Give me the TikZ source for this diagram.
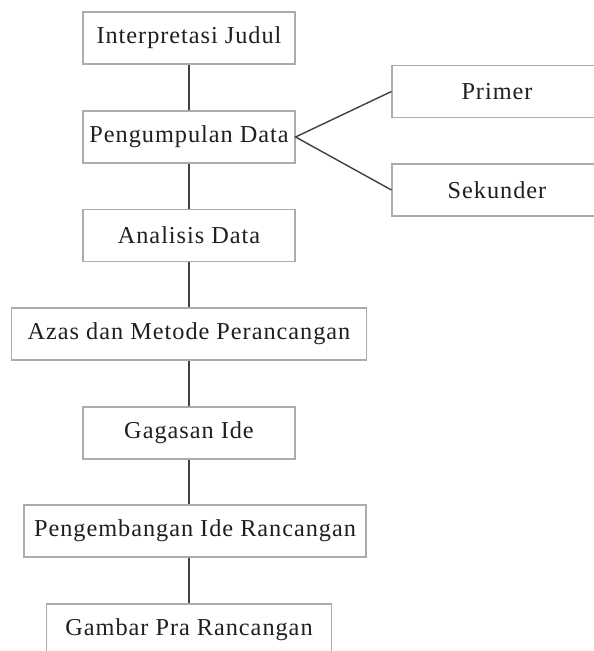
\documentclass[tikz,border=0pt]{standalone}
\usepackage{fontspec}
\setmainfont{Liberation Serif}[LetterSpace=4]
\usepackage{tikz}

\tikzset{
    kotak/.style={draw=gray!65, line width=1.1pt, minimum height=52pt, inner sep=0pt, text=black!88, font=\fontsize{24.3}{29}\selectfont},
    garis/.style={draw=black!75, line width=1.4pt}
}

\begin{document}
\begin{tikzpicture}[x=1pt,y=-1pt]
    \useasboundingbox (0,0) rectangle (594,651);
    \clip (0,0) rectangle (594,651);

    % Alur utama
    \node[kotak, minimum width=212pt] (judul) at (189,38) {Interpretasi Judul};
    \node[kotak, minimum width=212pt] (pengumpulan) at (189,137) {Pengumpulan Data};
    \node[kotak, minimum width=212pt] (analisis) at (189,235.5) {Analisis Data};
    \node[kotak, minimum width=355pt] (azas) at (189,334) {Azas dan Metode Perancangan};
    \node[kotak, minimum width=212pt] (gagasan) at (189,433) {Gagasan Ide};
    \node[kotak, minimum width=342pt] (pengembangan) at (195,531) {Pengembangan Ide Rancangan};
    \node[kotak, minimum width=285pt] (gambar) at (189,630) {Gambar Pra Rancangan};

    % Jenis data
    \node[kotak, minimum width=210pt] (primer) at (497,91.5) {Primer};
    \node[kotak, minimum width=210pt] (sekunder) at (497,190) {Sekunder};

    % Garis penghubung
    \draw[garis] (judul.south) -- (pengumpulan.north);
    \draw[garis] (pengumpulan.south) -- (analisis.north);
    \draw[garis] (analisis.south) -- (azas.north);
    \draw[garis] (azas.south) -- (gagasan.north);
    \draw[garis] (gagasan.south) -- (gagasan.south |- pengembangan.north);
    \draw[garis] (gagasan.south |- pengembangan.south) -- (gambar.north);
    \draw[garis] (primer.west) -- (pengumpulan.east) -- (sekunder.west);
\end{tikzpicture}
\end{document}
